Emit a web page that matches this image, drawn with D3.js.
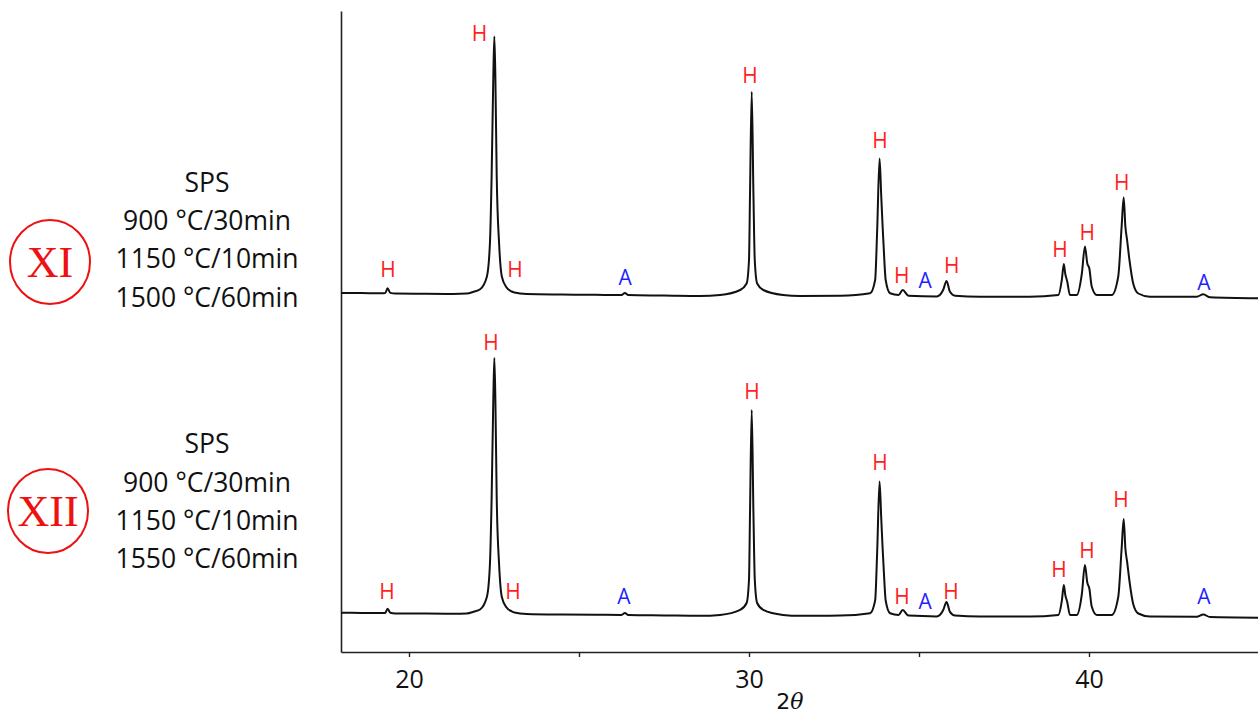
<!DOCTYPE html>
<html>
<head>
<meta charset="utf-8">
<script src="https://cdn.jsdelivr.net/npm/d3@7"></script>
<style>
  html, body { margin: 0; padding: 0; background: #fff; }
  svg { display: block; }
</style>
</head>
<body>
<svg id="chart" width="1258" height="715"></svg>
<script>
// ---------------- DATA ----------------
const xTickValues = [20, 25, 30, 35, 40, 45];
const xTickLabels = ["20", "", "30", "", "40", ""];
const xAxisTitle = "2θ";

const sampleIds = ["XI", "XII"];
const sampleOffsets = [320, 0];              // vertical stacking offset (a.u.)
const conditionsXI  = ["SPS", "900 °C/30min", "1150 °C/10min", "1500 °C/60min"];
const conditionsXII = ["SPS", "900 °C/30min", "1150 °C/10min", "1550 °C/60min"];

// [2θ, intensity (a.u.)]
const patternXI = [
  [18.0,-0.5],[18.6,-0.6],[19.2,-0.8],[19.3,-0.6],[19.37,4.2],[19.45,-0.4],[19.6,-1.0],
  [20.5,-1.2],[21.3,-1.4],[21.7,-1.0],[21.9,0.8],[22.09,3.2],[22.29,15.8],[22.38,49],
  [22.43,116],[22.48,216],[22.51,256],[22.54,216],[22.58,116],[22.65,49],[22.73,16],
  [22.87,5],[23.02,1],[23.1,0],[23.46,-1.5],[24.5,-2],[25.5,-2.3],[26.25,-2.5],
  [26.35,-0.5],[26.45,-2.6],[27.5,-3],[28.56,-3.5],[29.15,-2.5],[29.74,2.5],[29.93,9],
  [30.0,32.5],[30.03,99],[30.08,200.8],[30.13,99],[30.17,32],[30.24,9],[30.42,2.5],
  [31.0,-2.5],[31.5,-3.5],[32.68,-3.2],[33.56,-0.8],[33.71,12.5],[33.77,62.5],[33.84,134],
  [33.89,96],[33.93,66],[33.96,46],[34.02,12.5],[34.15,-0.8],[34.4,-2.5],[34.52,2.5],
  [34.69,-3.2],[35.52,-4],[35.71,2.5],[35.81,11.5],[35.91,0.8],[36.06,-3.2],[36.79,-4.2],
  [38.26,-4.2],[39.1,-2.5],[39.2,12.5],[39.26,28.5],[39.3,19],[39.36,11],[39.44,-2.5],
  [39.64,-2.5],[39.79,19],[39.88,46],[39.95,29],[40.01,24],[40.08,6],[40.23,-2.5],
  [40.67,-2.5],[40.86,16],[40.96,66],[41.02,95],[41.07,66],[41.12,52.5],[41.19,32.5],
  [41.3,9],[41.45,-1],[41.79,-4.2],[43.17,-4.2],[43.36,-1.8],[43.56,-4.8],[45.0,-5.8]
];
const patternXII = [
  [18.0,-0.2],[18.6,-0.4],[19.2,-0.6],[19.3,-0.4],[19.37,3.8],[19.45,-0.3],[19.6,-0.9],
  [20.5,-1.1],[21.3,-1.3],[21.7,-0.9],[21.9,0.8],[22.09,3.0],[22.29,15.5],[22.38,48],
  [22.43,114],[22.48,214],[22.51,254.5],[22.54,214],[22.58,114],[22.65,48],[22.73,15.5],
  [22.87,5],[23.02,1.2],[23.1,0],[23.46,-1.4],[24.5,-2],[25.5,-2.2],[26.25,-2.4],
  [26.35,-0.6],[26.45,-2.5],[27.5,-2.9],[28.56,-3.3],[29.15,-2.4],[29.74,2.6],[29.93,9.5],
  [30.0,33],[30.03,100],[30.08,202.5],[30.13,100],[30.17,33],[30.24,9.5],[30.42,2.6],
  [31.0,-2.4],[31.5,-3.3],[32.68,-3.1],[33.56,-0.7],[33.71,12],[33.77,61],[33.84,131],
  [33.89,94],[33.93,64],[33.96,45],[34.02,12],[34.15,-0.8],[34.4,-2.4],[34.52,2.4],
  [34.69,-3.1],[35.52,-3.9],[35.71,2.3],[35.81,10.5],[35.91,0.6],[36.06,-3.1],[36.79,-4.0],
  [38.26,-4.0],[39.1,-2.4],[39.2,11.5],[39.26,27.5],[39.3,18],[39.36,10.5],[39.44,-2.4],
  [39.64,-2.4],[39.79,18.5],[39.88,47.5],[39.95,30],[40.01,24],[40.08,6],[40.23,-2.4],
  [40.67,-2.4],[40.86,15.5],[40.96,64],[41.02,93.5],[41.07,64],[41.12,51],[41.19,31.5],
  [41.3,8.5],[41.45,-1],[41.79,-4.0],[43.17,-4.2],[43.36,-1.9],[43.56,-4.6],[45.0,-5.2]
];

// phase labels: [2θ, intensity (a.u.), phase]
const labelsXI = [
  [19.38,15.5,"H"],[22.07,251.5,"H"],[23.12,15.8,"H"],[26.36,7.5,"A"],[30.03,209.2,"H"],
  [33.85,144.2,"H"],[34.49,9.2,"H"],[35.18,4.2,"A"],[35.96,19.2,"H"],[39.15,35.8,"H"],
  [39.95,52.5,"H"],[40.96,102.5,"H"],[43.38,2.5,"A"]
];
const labelsXII = [
  [19.35,13.5,"H"],[22.41,262.5,"H"],[23.06,13.5,"H"],[26.32,8.5,"A"],[30.09,213.5,"H"],
  [33.85,142.5,"H"],[34.5,8.5,"H"],[35.18,3.5,"A"],[35.94,13.5,"H"],[39.12,35.5,"H"],
  [39.94,54.5,"H"],[40.94,105.5,"H"],[43.38,8.5,"A"]
];
const phaseColors = { H: "#ff1f1f", A: "#1f1fff" };

// ---------------- DRAWING ----------------
const svg = d3.select("#chart");
const plot = { left: 341, right: 1259, top: 11, bottom: 652 };

const x = d3.scaleLinear().domain([18, 45]).range([plot.left, plot.right]);
const y = d3.scaleLinear().domain([-39.5, 601.5]).range([plot.bottom, plot.top]);

// axes
const xAxis = d3.axisBottom(x)
  .tickValues(xTickValues)
  .tickFormat((d, i) => xTickLabels[i])
  .tickSize(5).tickSizeOuter(0).tickPadding(6);
const gx = svg.append("g").attr("transform", `translate(0,${plot.bottom})`).call(xAxis);
gx.select(".domain").attr("stroke", "#222").attr("stroke-width", 1.6);
gx.selectAll(".tick line").attr("stroke", "#222").attr("stroke-width", 1.4);
gx.selectAll(".tick text")
  .attr("font-family", "Open Sans, sans-serif").attr("font-size", 25).attr("fill", "#111")
  .attr("dy", null).attr("y", 36);

const yAxis = d3.axisLeft(y).tickValues([]).tickSizeOuter(0);
const gy = svg.append("g").attr("transform", `translate(${plot.left},0)`).call(yAxis);
gy.select(".domain").attr("stroke", "#222").attr("stroke-width", 1.6);

// x axis title
const title = svg.append("text")
  .attr("x", x(31.2)).attr("y", 709)
  .attr("text-anchor", "middle")
  .attr("font-size", 22).attr("fill", "#111");
title.append("tspan").attr("font-family", "DejaVu Sans, sans-serif").text(xAxisTitle[0]);
title.append("tspan").attr("font-family", "DejaVu Serif, serif").attr("font-style", "italic").text(xAxisTitle.slice(1));

// spectra
const patterns = [patternXI, patternXII];
const labelSets = [labelsXI, labelsXII];
const line = d3.line().curve(d3.curveMonotoneX);

patterns.forEach((pat, i) => {
  const off = sampleOffsets[i];
  svg.append("path")
    .attr("d", line(pat.map(d => [x(d[0]), y(d[1] + off)])))
    .attr("fill", "none")
    .attr("stroke", "#111")
    .attr("stroke-width", 2)
    .attr("stroke-linejoin", "round");

  svg.append("g").selectAll("text")
    .data(labelSets[i]).join("text")
    .attr("x", d => x(d[0]))
    .attr("y", d => y(d[1] + off))
    .attr("text-anchor", "middle")
    .attr("font-family", "Open Sans, sans-serif")
    .attr("font-size", 21)
    .attr("fill", d => phaseColors[d[2]])
    .text(d => d[2]);
});

// left-side sample annotations
const sampleText = [conditionsXI, conditionsXII];
const sampleTextTop = [191.7, 453.3];
const circleCenters = [[50, 262], [48, 511]];
sampleIds.forEach((id, i) => {
  const g = svg.append("g");
  g.selectAll("text.cond").data(sampleText[i]).join("text")
    .attr("class", "cond")
    .attr("x", 207)
    .attr("y", (d, j) => sampleTextTop[i] + j * 38.3)
    .attr("text-anchor", "middle")
    .attr("font-family", "Open Sans, sans-serif")
    .attr("font-size", 26.5)
    .attr("fill", "#111")
    .text(d => d);

  const [cx, cy] = circleCenters[i];
  g.append("ellipse")
    .attr("cx", cx).attr("cy", cy).attr("rx", 40).attr("ry", 42)
    .attr("fill", "none").attr("stroke", "#ee1111").attr("stroke-width", 2);
  g.append("text")
    .attr("x", cx).attr("y", cy + 15)
    .attr("text-anchor", "middle")
    .attr("font-family", "Liberation Serif, Times New Roman, serif")
    .attr("font-size", 44)
    .attr("fill", "#ee1111")
    .text(id);
});
</script>
</body>
</html>
